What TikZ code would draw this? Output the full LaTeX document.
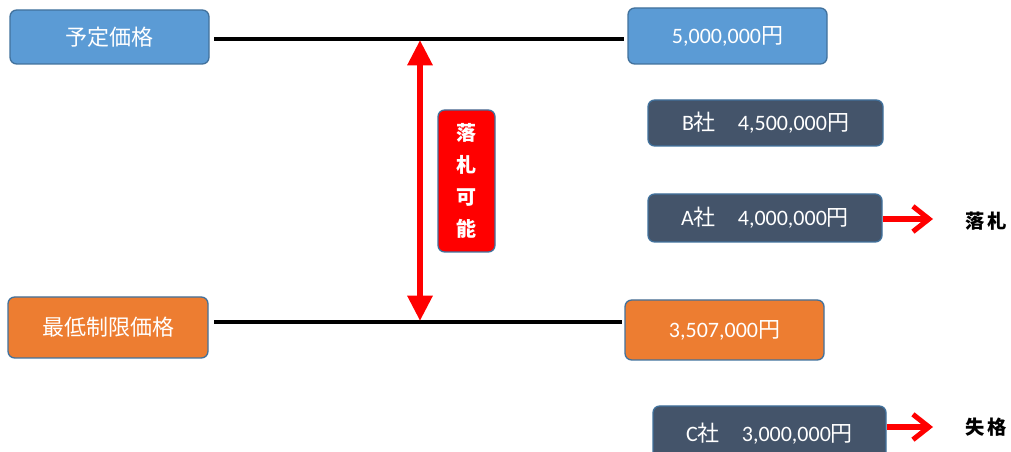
\documentclass[tikz,border=0pt]{standalone}
\usepackage{fontspec}
\setmainfont{Carlito}
\newfontfamily\jp{Noto Sans CJK JP}
\usetikzlibrary{arrows.meta}
\definecolor{blu}{HTML}{5B9BD5}
\definecolor{blubd}{HTML}{41719C}
\definecolor{org}{HTML}{ED7D31}
\definecolor{drk}{HTML}{44546A}
\definecolor{rd}{HTML}{FF0000}
\begin{document}
\begin{tikzpicture}[x=0.75pt,y=-0.75pt,
  box/.style={draw=blubd,line width=1pt,rounded corners=5pt,text=white,font=\fontsize{16.5}{19}\selectfont,inner sep=0pt},
  hline/.style={line width=2.4pt,black},
  res/.style={font=\jp\bfseries\fontsize{14.5}{16}\selectfont,anchor=center},
  rarr/.style={draw=rd,line width=3.8pt,-{Straight Barb[length=12pt,width=19pt,line width=3.8pt]}}]
\useasboundingbox (0,0) rectangle (1011,452);
\node[box,fill=blu,minimum width=199*0.75pt,minimum height=54*0.75pt] (yotei) at (109.5,37) {\jp 予定価格};
\node[box,fill=blu,minimum width=199*0.75pt,minimum height=56*0.75pt] (p5) at (727.5,36) {5,000,000{\jp 円}};
\node[box,fill=drk,minimum width=235*0.75pt,minimum height=46*0.75pt] (b) at (765.5,123) {B{\jp 社}\hspace{1em}4,500,000{\jp 円}};
\node[box,fill=drk,minimum width=234*0.75pt,minimum height=48*0.75pt] (a) at (765,218) {A{\jp 社}\hspace{1em}4,000,000{\jp 円}};
\node[box,fill=org,minimum width=200*0.75pt,minimum height=61*0.75pt] (saitei) at (108,327.5) {\jp 最低制限価格};
\node[box,fill=org,minimum width=199*0.75pt,minimum height=60*0.75pt] (p35) at (724.5,330) {3,507,000{\jp 円}};
\node[box,fill=drk,minimum width=233*0.75pt,minimum height=56*0.75pt] (c) at (769.5,434) {C{\jp 社}\hspace{1em}3,000,000{\jp 円}};
\node[box,fill=rd,minimum width=57*0.75pt,minimum height=142*0.75pt,font=\jp\bfseries\fontsize{15}{24}\selectfont,align=center] (kanou) at (466.5,181) {落\\札\\可\\能};
\coordinate (l1a) at (214,39); \coordinate (l1b) at (624,39);
\coordinate (l2a) at (214,322); \coordinate (l2b) at (622,322);
\draw[hline] (l1a) -- (l1b);
\draw[hline] (l2a) -- (l2b);
\coordinate (ut) at (420,40); \coordinate (ub) at (420,321);
\draw[rd,line width=4.5pt,{Triangle[length=19pt,width=18pt]}-{Triangle[length=19pt,width=18pt]}] (ut) -- (ub);
\node[res] (rak) at (986,221) {落\,札};
\node[res] (shik) at (986,427) {失\,格};
\coordinate (ae) at (933,219);
\coordinate (ce) at (933,427);
\draw[rarr] (a.east |- ae) -- (ae);
\draw[rarr] (c.east |- ce) -- (ce);
\end{tikzpicture}
\end{document}
